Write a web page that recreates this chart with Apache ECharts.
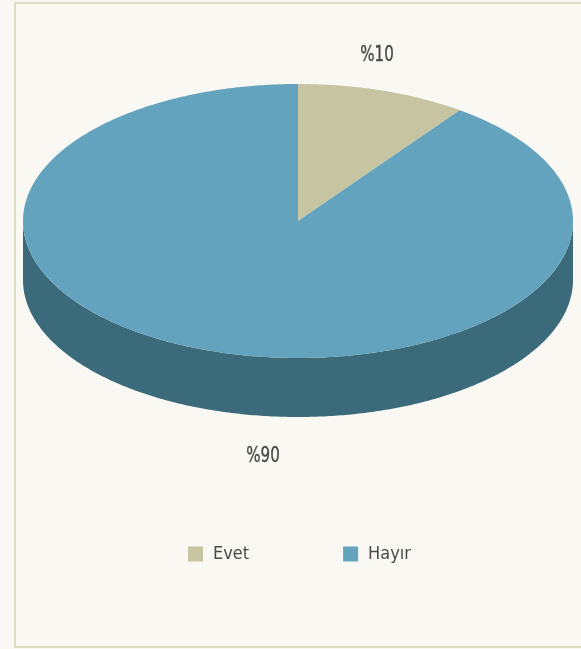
<!DOCTYPE html>
<html>
<head>
<meta charset="utf-8">
<script src="https://cdn.jsdelivr.net/npm/echarts@6/dist/echarts.min.js"></script>
<style>
  html, body { margin: 0; padding: 0; background: #f9f8f2; }
  #chart { width: 581px; height: 649px; }
</style>
</head>
<body>
<div id="chart"></div>
<script>
// pie data
const categories = ['Evet', 'Hayır']
const values = [10, 90]
const labels = ['%10', '%90']

const topColors = ['#c6c4a1', '#63a3bd']
const sideColors = ['#8f8d70', '#3b6a7a']
const FONT = '"DejaVu Sans Condensed", sans-serif'

// ellipse geometry of the tilted pie
const cx = 298, cy = 221, rx = 275, ry = 137, depth = 59
// label offsets from the rim point of each slice's mid angle
const labelShift = [[-6, -35], [50, 46]]

const total = values.reduce((a, b) => a + b, 0)
const starts = []
let acc = 0
for (const v of values) { starts.push(acc); acc += v }

function pt(theta, dy) {
  return [cx + rx * Math.sin(theta), cy - ry * Math.cos(theta) + (dy || 0)]
}

function arcPoints(a0, a1, dy) {
  const pts = []
  const n = Math.max(2, Math.ceil(Math.abs(a1 - a0) / 0.01))
  for (let i = 0; i <= n; i++) pts.push(pt(a0 + (a1 - a0) * i / n, dy))
  return pts
}

function renderSlice(idx) {
  return function (params, api) {
    const start = api.value(0) / total * Math.PI * 2
    const end = (api.value(0) + api.value(1)) / total * Math.PI * 2
    const children = []

    // visible side wall: the front half, from 90deg to 270deg
    const s0 = Math.max(start, Math.PI / 2)
    const s1 = Math.min(end, Math.PI * 1.5)
    if (s1 > s0) {
      const topArc = arcPoints(s0, s1, 0)
      const botArc = arcPoints(s1, s0, depth)
      children.push({
        type: 'polygon',
        shape: { points: topArc.concat(botArc) },
        style: { fill: sideColors[idx] }
      })
    }

    // top face
    children.push({
      type: 'polygon',
      shape: { points: [[cx, cy]].concat(arcPoints(start, end, 0)) },
      style: { fill: topColors[idx] }
    })

    // value label (condensed look)
    const mid = (start + end) / 2
    const front = Math.cos(mid) < 0
    const p = pt(mid, front ? depth : 0)
    children.push({
      type: 'text',
      x: p[0] + labelShift[idx][0],
      y: p[1] + labelShift[idx][1],
      scaleX: 0.76,
      style: {
        text: labels[idx],
        fill: '#4a4a4a',
        font: '22px ' + FONT,
        align: 'center',
        verticalAlign: 'middle',
        stroke: '#4a4a4a',
        lineWidth: 0.4
      }
    })
    return { type: 'group', children: children }
  }
}

const chart = echarts.init(document.getElementById('chart'))
chart.setOption({
  backgroundColor: '#f9f8f2',
  animation: false,
  graphic: [{
    type: 'rect',
    shape: { x: 15, y: 3, width: 580, height: 644 },
    style: { fill: 'none', stroke: '#dcdec4', lineWidth: 2 },
    z: -10
  }],
  legend: {
    left: 188,
    top: 545,
    padding: 0,
    itemWidth: 15,
    itemHeight: 15,
    itemGap: 94,
    icon: 'rect',
    data: categories,
    textStyle: {
      fontFamily: FONT,
      fontSize: 18,
      color: '#4a4a4a',
      padding: [0, 0, 0, 5]
    }
  },
  series: categories.map((name, i) => ({
    type: 'custom',
    name: name,
    coordinateSystem: 'none',
    itemStyle: { color: topColors[i] },
    renderItem: renderSlice(i),
    data: [[starts[i], values[i]]]
  }))
})
</script>
</body>
</html>
